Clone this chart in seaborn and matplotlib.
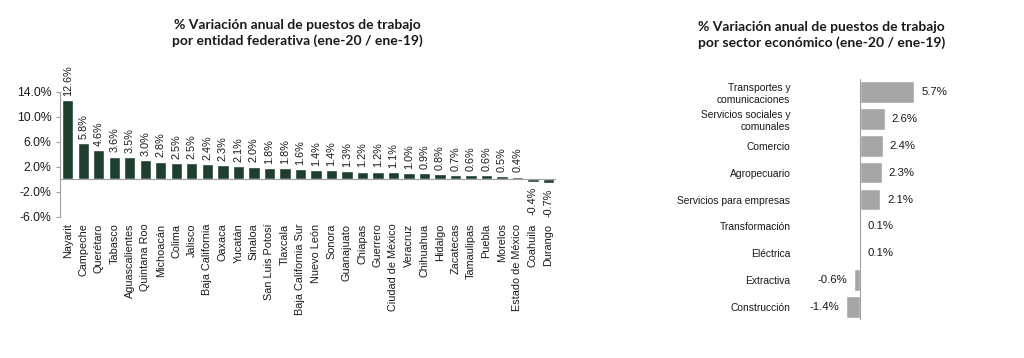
import matplotlib
matplotlib.use("Agg")
import matplotlib.pyplot as plt
import seaborn as sns
import pandas as pd

# % annual change of jobs, Jan-20 vs Jan-19
states = ['Nayarit', 'Campeche', 'Querétaro', 'Tabasco', 'Aguascalientes', 'Quintana Roo',
          'Michoacán', 'Colima', 'Jalisco', 'Baja California', 'Oaxaca', 'Yucatán', 'Sinaloa',
          'San Luis Potosí', 'Tlaxcala', 'Baja California Sur', 'Nuevo León', 'Sonora',
          'Guanajuato', 'Chiapas', 'Guerrero', 'Ciudad de México', 'Veracruz', 'Chihuahua',
          'Hidalgo', 'Zacatecas', 'Tamaulipas', 'Puebla', 'Morelos', 'Estado de México',
          'Coahuila', 'Durango']
state_values = [12.6, 5.8, 4.6, 3.6, 3.5, 3.0, 2.8, 2.5, 2.5, 2.4, 2.3, 2.1, 2.0, 1.8, 1.8, 1.6,
                1.4, 1.4, 1.3, 1.2, 1.2, 1.1, 1.0, 0.9, 0.8, 0.7, 0.6, 0.6, 0.5, 0.4, -0.4, -0.7]

sectors = ['Transportes y\ncomunicaciones', 'Servicios sociales y\ncomunales', 'Comercio',
           'Agropecuario', 'Servicios para empresas', 'Transformación', 'Eléctrica',
           'Extractiva', 'Construcción']
sector_values = [5.7, 2.6, 2.4, 2.3, 2.1, 0.1, 0.1, -0.6, -1.4]

y_ticks = [14, 10, 6, 2, -2, -6]

green = '#1e3f2e'
grey = '#a6a6a6'
axis_grey = '#a0a0a0'
text_col = '#1a1a1a'

sns.set_theme(style='white')
plt.rcParams['font.family'] = ['Liberation Sans', 'DejaVu Sans']

fig = plt.figure(figsize=(10.24, 3.58), dpi=100)

# --- states chart ---
ax1 = fig.add_axes([0.0586, 0.395, 0.4844, 0.349])
df_states = pd.DataFrame({'estado': states, 'valor': state_values})
sns.barplot(data=df_states, x='estado', y='valor', color=green, saturation=1,
            width=0.74, ax=ax1)
ax1.set_ylim(-6, 14)
ax1.set_xlim(-0.5, len(states) - 0.5)
ax1.set_yticks(y_ticks)
ax1.set_yticklabels([f'{t:.1f}%' for t in y_ticks], fontsize=8.8, color=text_col)
ax1.tick_params(axis='y', length=3, width=0.8, color=axis_grey, pad=3, left=True)
ax1.tick_params(axis='x', length=0, pad=5)
ax1.set_xticks(range(len(states)))
ax1.set_xticklabels(states, rotation=90, fontsize=7.8, color=text_col)
ax1.set_xlabel('')
ax1.set_ylabel('')
for side in ['top', 'right', 'bottom']:
    ax1.spines[side].set_visible(False)
ax1.spines['left'].set_color(axis_grey)
ax1.spines['left'].set_linewidth(0.8)
ax1.axhline(0, color=axis_grey, linewidth=0.8)

for i, v in enumerate(state_values):
    if v >= 0:
        ax1.annotate(f'{v:.1f}%', (i, v), xytext=(0, 3), textcoords='offset points',
                     rotation=90, ha='center', va='bottom', fontsize=7.8, color=text_col)
    else:
        ax1.annotate(f'{v:.1f}%', (i, v), xytext=(0, -4), textcoords='offset points',
                     rotation=90, ha='center', va='top', fontsize=7.8, color=text_col)

# --- sectors chart ---
ax2 = fig.add_axes([0.776, 0.105, 0.132, 0.675])
df_sect = pd.DataFrame({'sector': sectors, 'valor': sector_values})
sns.barplot(data=df_sect, x='valor', y='sector', orient='h', color=grey, saturation=1,
            width=0.8, ax=ax2)
ax2.set_xlim(-6.8, 7.3)
ax2.set_ylim(len(sectors) - 0.5, -0.5)
ax2.set_xticks([])
ax2.set_xlabel('')
ax2.set_ylabel('')
ax2.tick_params(axis='y', length=0, pad=3)
ax2.set_yticks(range(len(sectors)))
ax2.set_yticklabels(sectors, fontsize=7.4, color=text_col)
for side in ['top', 'right', 'bottom', 'left']:
    ax2.spines[side].set_visible(False)
ax2.axvline(0, color=axis_grey, linewidth=0.8)

for i, v in enumerate(sector_values):
    if v >= 0:
        ax2.annotate(f'{v:.1f}%', (v, i), xytext=(5, 0), textcoords='offset points',
                     ha='left', va='center', fontsize=8.2, color=text_col)
    else:
        ax2.annotate(f'{v:.1f}%', (v, i), xytext=(-5, 0), textcoords='offset points',
                     ha='right', va='center', fontsize=8.2, color=text_col)

# titles
fig.text(0.29, 0.908, '% Variación anual de puestos de trabajo\npor entidad federativa (ene-20 / ene-19)',
         ha='center', va='center', fontsize=10, fontweight='bold', color=text_col,
         family=['Lato', 'DejaVu Sans'], linespacing=1.3)
fig.text(0.802, 0.902, '% Variación anual de puestos de trabajo\npor sector económico (ene-20 / ene-19)',
         ha='center', va='center', fontsize=10, fontweight='bold', color=text_col,
         family=['Lato', 'DejaVu Sans'], linespacing=1.3)

fig.savefig('out.png', dpi=100, facecolor='white')
